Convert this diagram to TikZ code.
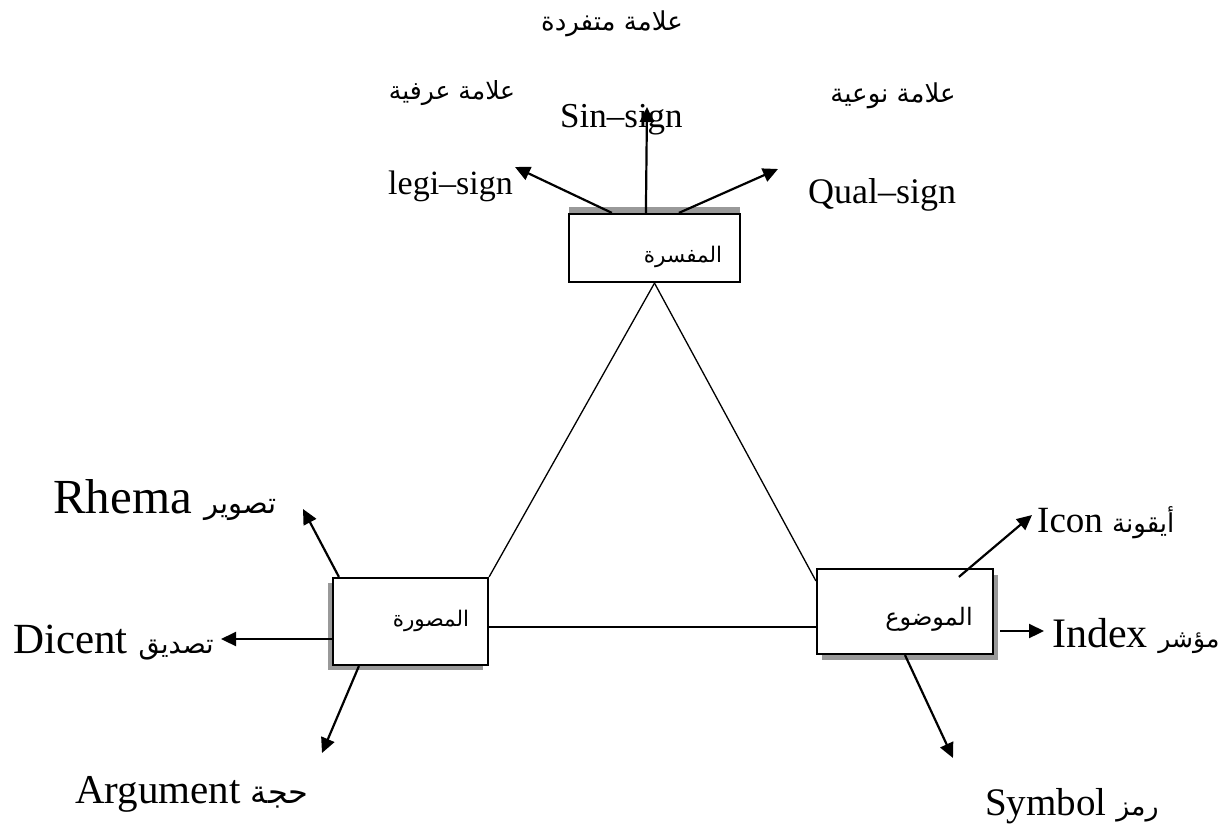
\documentclass[tikz,border=0pt]{standalone}
\usepackage{fontspec}
\setmainfont{Liberation Serif}
\newfontfamily\arabicfont[Script=Arabic]{DejaVu Sans}
\TeXXeTstate=1
\usetikzlibrary{arrows.meta,calc,shadows}
\newcommand{\arsz}[1]{\arabicfont\fontsize{#1}{#1}\selectfont}
\newcommand{\lat}[1]{\fontsize{#1}{#1}\selectfont}
\begin{document}
\begin{tikzpicture}[x=1pt,y=-1pt,
  boxnode/.style={draw,line width=2.2pt,fill=white,inner sep=0pt},
  arr/.style={line width=2.2pt,-{Triangle[length=15pt,width=14pt]}},
  tri/.style={line width=1.3pt},
  lbl/.style={inner sep=0pt,anchor=base west},
  ttl/.style={inner sep=0pt}]
\useasboundingbox (0,0) rectangle (1228,831);

% boxes
\node[boxnode,minimum width=171pt,minimum height=68pt,
  drop shadow={shadow xshift=0pt,shadow yshift=7pt,fill=black!40,opacity=1}] (interp) at (654.5,248) {};
\node[boxnode,minimum width=155pt,minimum height=87pt,
  drop shadow={shadow xshift=-5pt,shadow yshift=-5pt,fill=black!40,opacity=1}] (repr) at (410.5,621.5) {};
\node[boxnode,minimum width=176pt,minimum height=85pt,
  drop shadow={shadow xshift=5pt,shadow yshift=-6pt,fill=black!40,opacity=1}] (obj) at (905,611.5) {};

% box texts
\node[ttl] (interpT) at (683,257) {\arsz{21.5}\beginR المفسرة\endR};
\node[ttl] (reprT) at (431,621) {\arsz{21.5}\beginR المصورة\endR};
\node[ttl] (objT) at (929,619) {\arsz{24}\beginR الموضوع\endR};

% triangle
\draw[tri] (interp.south) -- (repr.north east);
\draw[tri] (interp.south) -- ($(obj.north west)+(0,13)$);
\draw[tri] ($(repr.east)+(0,5.5)$) -- ($(obj.west)+(0,15.5)$);

% arrow tips
\coordinate (legiTip) at (515,167);
\coordinate (sinTip) at (647,107);
\coordinate (qualTip) at (778,169);
\coordinate (rhemaTip) at (303,509);
\coordinate (dicentTip) at (221,639);
\coordinate (argTip) at (322,753);
\coordinate (iconTip) at (1032,515);
\coordinate (indexTip) at (1044,631);
\coordinate (symTip) at (953,758);

\draw[arr] ($(interp.north west)+(44,0)$) -- (legiTip);
\draw[arr] ($(interp.north west)+(78,0)$) -- (sinTip);
\draw[arr] ($(interp.north west)+(111,0)$) -- (qualTip);
\draw[arr] ($(repr.north west)+(7,0)$) -- (rhemaTip);
\draw[arr] ($(repr.west)+(0,17.5)$) -- (dicentTip);
\draw[arr] ($(repr.south west)+(27,0)$) -- (argTip);
\draw[arr] ($(obj.north west)+(143,9)$) -- (iconTip);
\draw[arr] ($(obj.east)+(6,19.5)$) -- (indexTip);
\draw[arr] (obj.south) -- (symTip);

% top labels
\node[ttl] (t1) at (612,24) {\arsz{26}\beginR علامة متفردة\endR};
\node[ttl] (t2) at (452,93) {\arsz{25}\beginR علامة عرفية\endR};
\node[ttl] (t3) at (893,96) {\arsz{26}\beginR علامة نوعية\endR};
\node[lbl] (legiL) at (388,194) {\lat{34}legi–sign};
\node[lbl] (sinL) at (560,127) {\lat{35}Sin–sign};
\node[lbl] (qualL) at (808,203) {\lat{36}Qual–sign};

% side labels
\node[lbl] (rhemaL) at (53,513) {\lat{49}Rhema {\arsz{29}\beginR تصوير\endR}};
\node[lbl] (dicentL) at (13,653) {\lat{43}Dicent {\arsz{27}\beginR تصديق\endR}};
\node[lbl] (argL) at (75,803) {\lat{41}Argument {\arsz{32}\beginR حجة\endR}};
\node[lbl] (iconL) at (1037,532) {\lat{37}Icon {\arsz{26}\beginR أيقونة\endR}};
\node[lbl] (indexL) at (1052,647) {\lat{42}Index {\arsz{25}\beginR مؤشر\endR}};
\node[lbl] (symL) at (985,815) {\lat{39}Symbol {\arsz{27}\beginR رمز\endR}};
\end{tikzpicture}
\end{document}
